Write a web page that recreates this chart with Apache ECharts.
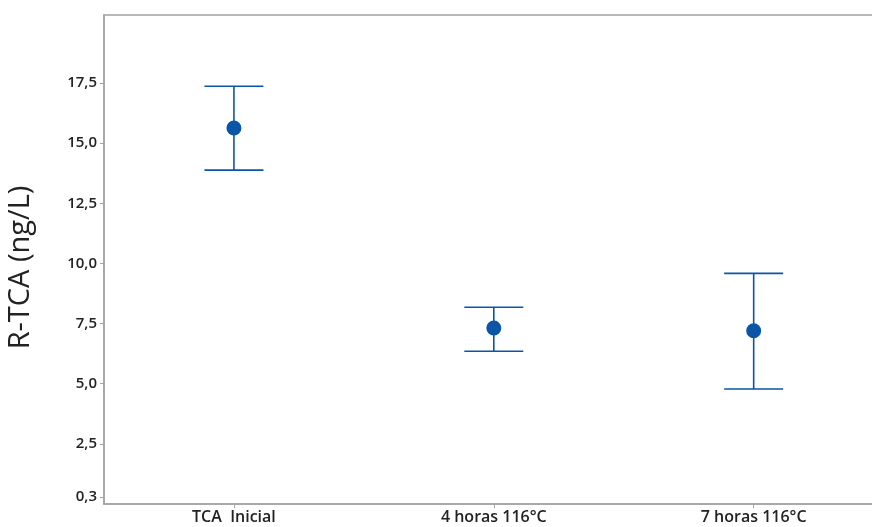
<!DOCTYPE html>
<html>
<head>
<meta charset="utf-8">
<script src="https://cdn.jsdelivr.net/npm/echarts@6/dist/echarts.min.js"></script>
<style>
  html, body { margin: 0; padding: 0; background: #fff; }
  #chart { width: 872px; height: 527px; }
</style>
</head>
<body>
<div id="chart"></div>
<script>
// Group names along the x axis
const categories = ['TCA  Inicial', '4 horas 116°C', '7 horas 116°C'];
// Mean R-TCA per group (ng/L)
const means = [15.63, 7.32, 7.20];
// Interval bounds per group (ng/L)
const lowerBounds = [13.88, 6.35, 4.78];
const upperBounds = [17.37, 8.18, 9.59];
// Y-axis labelled ticks
const yTicks = [0.3, 2.5, 5.0, 7.5, 10.0, 12.5, 15.0, 17.5];

const BLUE = '#0a55a8';
const FRAME = '#a3a3a3';
const TEXT = '#222222';
const FONT = '"Open Sans", "Noto Sans", sans-serif';

const positions = categories.map((_, i) => i);
const barData = positions.map((p, i) => [p, lowerBounds[i], upperBounds[i]]);
const pointData = positions.map((p, i) => [p, means[i]]);

const chart = echarts.init(document.getElementById('chart'), null, { renderer: 'canvas' });

chart.setOption({
  animation: false,
  backgroundColor: '#ffffff',
  grid: {
    left: 104, right: -2, top: 15, bottom: 23,
    outerBoundsMode: 'none',
    containLabel: false,
    show: true, borderColor: FRAME, borderWidth: 1.5, backgroundColor: 'transparent'
  },
  xAxis: {
    type: 'value',
    min: -0.5,
    max: 2.463,
    axisLine: { show: true, onZero: false, lineStyle: { color: FRAME, width: 1.5 } },
    splitLine: { show: false },
    axisTick: { show: true, customValues: positions, length: 4, lineStyle: { color: FRAME, width: 1 } },
    axisLabel: {
      customValues: positions,
      formatter: v => categories[Math.round(v)],
      color: TEXT, fontFamily: FONT, fontSize: 16, fontWeight: 600, margin: 5
    }
  },
  yAxis: {
    type: 'value',
    min: 0,
    max: 20.33,
    name: 'R-TCA (ng/L)',
    nameLocation: 'middle',
    nameGap: 69,
    nameTextStyle: {
      color: TEXT, fontFamily: FONT, fontSize: 29, fontWeight: 400,
      padding: [0, 16, 0, 0]
    },
    axisLine: { show: true, onZero: false, lineStyle: { color: FRAME, width: 1.5 } },
    splitLine: { show: false },
    axisTick: { show: true, customValues: yTicks, length: 4, lineStyle: { color: FRAME, width: 1 } },
    axisLabel: {
      customValues: yTicks,
      formatter: v => v.toFixed(1).replace('.', ','),
      color: TEXT, fontFamily: FONT, fontSize: 15, fontWeight: 600, margin: 7
    }
  },
  series: [
    {
      type: 'custom',
      data: barData,
      encode: { x: 0, y: [1, 2] },
      renderItem: function (params, api) {
        const x = api.value(0);
        const lo = api.coord([x, api.value(1)]);
        const hi = api.coord([x, api.value(2)]);
        const half = 29.5;
        const style = { stroke: BLUE, lineWidth: 1.6 };
        return {
          type: 'group',
          children: [
            { type: 'line', shape: { x1: lo[0], y1: lo[1], x2: hi[0], y2: hi[1] }, style },
            { type: 'line', shape: { x1: hi[0] - half, y1: hi[1], x2: hi[0] + half, y2: hi[1] }, style },
            { type: 'line', shape: { x1: lo[0] - half, y1: lo[1], x2: lo[0] + half, y2: lo[1] }, style }
          ]
        };
      },
      z: 2
    },
    {
      type: 'scatter',
      data: pointData,
      symbol: 'circle',
      symbolSize: 15,
      itemStyle: { color: BLUE, opacity: 1 },
      z: 3
    }
  ]
});
</script>
</body>
</html>
